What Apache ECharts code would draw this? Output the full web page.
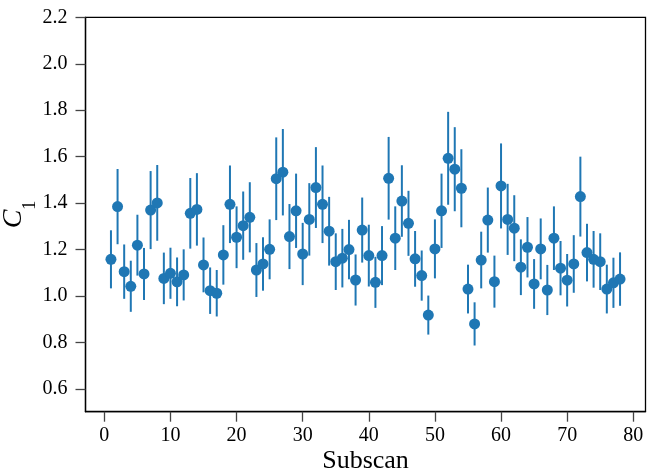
<!DOCTYPE html>
<html>
<head>
<meta charset="utf-8">
<script src="https://cdn.jsdelivr.net/npm/echarts@6/dist/echarts.min.js"></script>
<style>
html,body{margin:0;padding:0;background:#fff;}
#chart{width:647px;height:473px;}
</style>
</head>
<body>
<div id="chart"></div>
<script>
const subscans = [1,2,3,4,5,6,7,8,9,10,11,12,13,14,15,16,17,18,19,20,21,22,23,24,25,26,27,28,29,30,31,32,33,34,35,36,37,38,39,40,41,42,43,44,45,46,47,48,49,50,51,52,53,54,55,56,57,58,59,60,61,62,63,64,65,66,67,68,69,70,71,72,73,74,75,76,77,78];
const c1Values = [1.158,1.385,1.105,1.042,1.219,1.095,1.370,1.401,1.076,1.098,1.061,1.091,1.356,1.373,1.134,1.023,1.012,1.177,1.395,1.253,1.303,1.339,1.112,1.138,1.201,1.505,1.533,1.256,1.367,1.181,1.330,1.467,1.395,1.279,1.148,1.163,1.200,1.069,1.284,1.174,1.059,1.174,1.507,1.249,1.409,1.313,1.160,1.088,0.918,1.203,1.367,1.593,1.546,1.464,1.030,0.880,1.155,1.327,1.062,1.474,1.330,1.292,1.124,1.210,1.052,1.203,1.026,1.249,1.120,1.068,1.138,1.428,1.187,1.158,1.148,1.030,1.057,1.073];
const c1Errors = [0.125,0.162,0.117,0.110,0.131,0.112,0.168,0.163,0.111,0.110,0.105,0.110,0.152,0.156,0.118,0.100,0.100,0.128,0.167,0.133,0.147,0.151,0.116,0.115,0.129,0.178,0.186,0.140,0.160,0.134,0.156,0.174,0.167,0.148,0.122,0.126,0.128,0.110,0.140,0.133,0.110,0.127,0.178,0.137,0.154,0.140,0.120,0.108,0.084,0.127,0.160,0.200,0.181,0.168,0.105,0.093,0.122,0.140,0.112,0.183,0.153,0.142,0.120,0.130,0.107,0.131,0.108,0.137,0.117,0.113,0.124,0.172,0.124,0.122,0.122,0.105,0.108,0.115];
const xTicks = [0,10,20,30,40,50,60,70,80];
const yTicks = [0.6,0.8,1.0,1.2,1.4,1.6,1.8,2.0,2.2];

const blue = '#1f77b4';
const serif = "'Liberation Serif','DejaVu Serif',serif";

const pointData = subscans.map((x, i) => [x, c1Values[i]]);
const errData = subscans.map((x, i) => [x, c1Values[i] - c1Errors[i], c1Values[i] + c1Errors[i]]);

const chart = echarts.init(document.getElementById('chart'), null, {renderer: 'canvas'});
chart.setOption({
  animation: false,
  backgroundColor: '#fff',
  grid: {
    left: 85.5, right: 1.5, top: 17.3, bottom: 61.3,
    containLabel: false, outerBoundsMode: 'none',
    show: true, borderColor: '#000', borderWidth: 1.3, backgroundColor: 'transparent'
  },
  xAxis: {
    type: 'value', min: -2.85, max: 81.85,
    name: 'Subscan', nameLocation: 'middle', nameGap: 36, nameMoveOverlap: false,
    nameTextStyle: {fontFamily: serif, fontSize: 26, color: '#000'},
    axisLine: {show: true, onZero: false, lineStyle: {color: '#000', width: 1.3}},
    axisTick: {show: true, inside: false, length: 10, customValues: xTicks, lineStyle: {color: '#444', width: 1.3}},
    axisLabel: {show: true, customValues: xTicks, margin: 14, fontFamily: serif, fontSize: 20, color: '#000', formatter: v => String(Math.round(v))},
    splitLine: {show: false}
  },
  yAxis: {
    type: 'value', min: 0.502, max: 2.2,
    name: '{c|C}{s|1}', nameLocation: 'middle', nameGap: 46.5, nameRotate: 90, nameMoveOverlap: false,
    nameTextStyle: {
      color: '#000',
      rich: {
        c: {fontFamily: serif, fontStyle: 'italic', fontSize: 28, lineHeight: 39, verticalAlign: 'top', color: '#000'},
        s: {fontFamily: serif, fontSize: 18, lineHeight: 39, verticalAlign: 'bottom', color: '#000'}
      }
    },
    axisLine: {show: true, onZero: false, lineStyle: {color: '#000', width: 1.3}},
    axisTick: {show: true, inside: false, length: 10, customValues: yTicks, lineStyle: {color: '#444', width: 1.3}},
    axisLabel: {show: true, customValues: yTicks, margin: 18, fontFamily: serif, fontSize: 20, color: '#000', formatter: v => v.toFixed(1)},
    splitLine: {show: false}
  },
  series: [
    {
      type: 'custom',
      data: errData,
      z: 2,
      encode: {x: 0, y: [1, 2]},
      renderItem: function (params, api) {
        const lo = api.coord([api.value(0), api.value(1)]);
        const hi = api.coord([api.value(0), api.value(2)]);
        return {
          type: 'line',
          shape: {x1: lo[0], y1: lo[1], x2: hi[0], y2: hi[1]},
          style: {stroke: blue, lineWidth: 2}
        };
      }
    },
    {
      type: 'scatter',
      data: pointData,
      z: 3,
      symbol: 'circle',
      symbolSize: 11,
      itemStyle: {color: blue, opacity: 1}
    }
  ]
});
</script>
</body>
</html>
